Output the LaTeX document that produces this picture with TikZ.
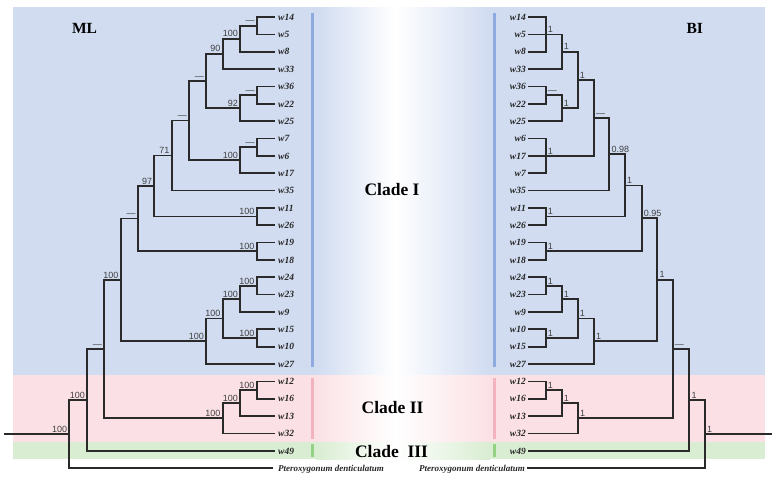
\documentclass[tikz,border=0pt]{standalone}
\usepackage{fontspec}
\setmainfont{Liberation Serif}
\newfontfamily\numfont{Liberation Sans}
\definecolor{bandblue}{HTML}{D1DCF1}
\definecolor{bandpink}{HTML}{FBE1E5}
\definecolor{bandgreen}{HTML}{D9EDD2}
\definecolor{barblue}{HTML}{8EAADF}
\definecolor{barpink}{HTML}{F2B3BE}
\definecolor{bargreen}{HTML}{93D283}
\definecolor{treeline}{HTML}{2A2A2A}
\definecolor{numgray}{HTML}{404040}
\tikzset{
  br/.style={draw=treeline, line width=1.7pt},
  sl/.style={font=\numfont\fontsize{9}{9}\selectfont, text=numgray, anchor=south east, inner sep=1pt, xshift=-1pt, yshift=0.6pt},
  sr/.style={font=\numfont\fontsize{9}{9}\selectfont, text=numgray, anchor=south west, inner sep=1pt, xshift=1pt, yshift=0.6pt},
  leafL/.style={font=\fontsize{9.5}{9.5}\selectfont\bfseries\itshape, text=black!85, anchor=west, inner xsep=3pt, inner ysep=0pt, text height=6.5pt, text depth=0pt},
  leafR/.style={font=\fontsize{9.5}{9.5}\selectfont\bfseries\itshape, text=black!85, anchor=east, inner xsep=2pt, inner ysep=0pt, text height=6.5pt, text depth=0pt},
  pterL/.style={leafL, font=\fontsize{9}{9}\selectfont\bfseries\itshape},
  pterR/.style={leafR, font=\fontsize{9}{9}\selectfont\bfseries\itshape},
  cladetxt/.style={font=\fontsize{17.5}{17.5}\selectfont\bfseries, text=black},
  methtxt/.style={font=\fontsize{15.5}{15.5}\selectfont\bfseries, text=black},
  bar/.style={line width=3pt}
}
\begin{document}
\begin{tikzpicture}[x=1pt,y=-1pt]
\useasboundingbox (0,0) rectangle (778,479);
% background bands
\fill[bandblue] (13,7) rectangle (765,375);
\fill[bandpink] (13,375) rectangle (765,442);
\fill[bandgreen] (13,442) rectangle (765,459);
\shade[left color=bandblue, right color=white] (316,7) rectangle (395,375);
\shade[left color=white, right color=bandblue] (395,7) rectangle (490,375);
\shade[left color=bandpink, right color=white] (316,375) rectangle (395,442);
\shade[left color=white, right color=bandpink] (395,375) rectangle (490,442);
\shade[left color=bandgreen, right color=white] (316,442) rectangle (395,459);
\shade[left color=white, right color=bandgreen] (395,442) rectangle (490,459);
% clade bars
\draw[bar, barblue] (312.7,13) -- (312.7,367);
\draw[bar, barpink] (312.7,378) -- (312.7,439);
\draw[bar, bargreen] (312.7,444) -- (312.7,457);
\draw[bar, barblue] (494,13) -- (494,367);
\draw[bar, barpink] (494,378) -- (494,439);
\draw[bar, bargreen] (494,444) -- (494,457);
% titles
\node[methtxt] (ml) at (84.5,28) {ML};
\node[methtxt] (bi) at (694.7,28) {BI};
\node[cladetxt] (c1) at (392,190) {Clade I};
\node[cladetxt] (c2) at (392.5,408) {Clade II};
\node[cladetxt] (c3) at (391.5,452) {Clade\ \ III};
% ---------- left leaves ----------
\foreach \n [count=\i from 0] in {w14,w5,w8,w33,w36,w22,w25,w7,w6,w17,w35,w11,w26,w19,w18,w24,w23,w9,w15,w10,w27,w12,w16,w13,w32,w49}{
  \coordinate (tL\i) at (275,{17+17.35*\i});
  \node[leafL] (nL\i) at (tL\i) {\n};
}
\coordinate (tL26) at (273.3,468.1);
\node[pterL] (nL26) at (275,468.1) {Pteroxygonum denticulatum};
% ---------- right leaves ----------
\foreach \n [count=\i from 0] in {w14,w5,w8,w33,w36,w22,w25,w6,w17,w7,w35,w11,w26,w19,w18,w24,w23,w9,w10,w15,w27,w12,w16,w13,w32,w49}{
  \coordinate (tR\i) at (528,{17+17.35*\i});
  \node[leafR] (nR\i) at (tR\i) {\n};
}
\coordinate (tR26) at (527,468.1);
\node[pterR] (nR26) at (tR26) {Pteroxygonum denticulatum};
% ---------- left internal nodes ----------
\coordinate (LA) at (256.7,25.675);
\coordinate (LB) at (240,38.69);
\coordinate (LC) at (222.7,53.87);
\coordinate (LD) at (256.7,95.075);
\coordinate (LE) at (240,108.09);
\coordinate (LF) at (206,80.98);
\coordinate (LG) at (256.7,147.125);
\coordinate (LH) at (240,160.14);
\coordinate (LI) at (189,120.56);
\coordinate (LJ) at (171.7,155.53);
\coordinate (LK1) at (256.7,216.525);
\coordinate (LK) at (154.3,186.03);
\coordinate (LL1) at (256.7,251.225);
\coordinate (LL) at (137.7,218.63);
\coordinate (LM1) at (256.7,285.925);
\coordinate (LM2) at (240,298.94);
\coordinate (LM3) at (256.7,337.975);
\coordinate (LM4) at (222.7,318.46);
\coordinate (LM5) at (206,341.23);
\coordinate (LP) at (120.7,279.93);
\coordinate (LQ1) at (256.7,390.025);
\coordinate (LQ2) at (240,403.04);
\coordinate (LQ3) at (222.7,418.22);
\coordinate (LT) at (104,349.08);
\coordinate (LU) at (87,399.91);
\coordinate (LV) at (69.3,434.0);
\coordinate (rootL) at (4,434.0);
\draw[br] (LA) |- (tL0) (LA) |- (tL1)
  (LB) |- (LA) (LB) |- (tL2)
  (LC) |- (LB) (LC) |- (tL3)
  (LD) |- (tL4) (LD) |- (tL5)
  (LE) |- (LD) (LE) |- (tL6)
  (LF) |- (LC) (LF) |- (LE)
  (LG) |- (tL7) (LG) |- (tL8)
  (LH) |- (LG) (LH) |- (tL9)
  (LI) |- (LF) (LI) |- (LH)
  (LJ) |- (LI) (LJ) |- (tL10)
  (LK1) |- (tL11) (LK1) |- (tL12)
  (LK) |- (LJ) (LK) |- (LK1)
  (LL1) |- (tL13) (LL1) |- (tL14)
  (LL) |- (LK) (LL) |- (LL1)
  (LM1) |- (tL15) (LM1) |- (tL16)
  (LM2) |- (LM1) (LM2) |- (tL17)
  (LM3) |- (tL18) (LM3) |- (tL19)
  (LM4) |- (LM2) (LM4) |- (LM3)
  (LM5) |- (LM4) (LM5) |- (tL20)
  (LP) |- (LL) (LP) |- (LM5)
  (LQ1) |- (tL21) (LQ1) |- (tL22)
  (LQ2) |- (LQ1) (LQ2) |- (tL23)
  (LQ3) |- (LQ2) (LQ3) |- (tL24)
  (LT) |- (LP) (LT) |- (LQ3)
  (LU) |- (LT) (LU) |- (tL25)
  (LV) |- (LU) (LV) |- (tL26)
  (rootL) -- (LV);
% left support values
\node[sl] at (LA) {—};
\node[sl] at (LB) {100};
\node[sl] at (LC) {90};
\node[sl] at (LD) {—};
\node[sl] at (LE) {92};
\node[sl] at (LF) {—};
\node[sl] at (LG) {—};
\node[sl] at (LH) {100};
\node[sl] at (LI) {—};
\node[sl] at (LJ) {71};
\node[sl] at (LK1) {100};
\node[sl] at (LK) {97};
\node[sl] at (LL1) {100};
\node[sl] at (LL) {—};
\node[sl] at (LM1) {100};
\node[sl] at (LM2) {100};
\node[sl] at (LM3) {100};
\node[sl] at (LM4) {100};
\node[sl] at (LM5) {100};
\node[sl] at (LP) {100};
\node[sl] at (LQ1) {100};
\node[sl] at (LQ2) {100};
\node[sl] at (LQ3) {100};
\node[sl] at (LT) {—};
\node[sl] at (LU) {100};
\node[sl] at (LV) {100};
% ---------- right internal nodes ----------
\coordinate (RA) at (545.7,34.35);
\coordinate (RB) at (561.7,51.7);
\coordinate (RD) at (545.7,95.075);
\coordinate (RE) at (561.7,108.09);
\coordinate (RX1) at (577.7,79.9);
\coordinate (RG) at (545.7,155.8);
\coordinate (RX2) at (594,117.85);
\coordinate (RX3) at (609.3,154.18);
\coordinate (RK1) at (545.7,216.525);
\coordinate (RX4) at (625,185.35);
\coordinate (RL1) at (545.7,251.225);
\coordinate (RX5) at (641.7,218.29);
\coordinate (RM1) at (545.7,285.925);
\coordinate (RM2) at (561.7,298.94);
\coordinate (RM3) at (545.7,337.975);
\coordinate (RM4) at (577.7,318.46);
\coordinate (RM5) at (594,341.23);
\coordinate (RX6) at (657.3,279.76);
\coordinate (RQ1) at (545.7,390.025);
\coordinate (RQ2) at (561.7,403.04);
\coordinate (RQ3) at (578,418.22);
\coordinate (RX7) at (672.7,348.99);
\coordinate (RX8) at (689.3,399.87);
\coordinate (RX9) at (705,433.98);
\coordinate (rootR) at (772,433.98);
\draw[br] (RA) |- (tR0) (RA) |- (tR1) (RA) |- (tR2)
  (RB) |- (RA) (RB) |- (tR3)
  (RD) |- (tR4) (RD) |- (tR5)
  (RE) |- (RD) (RE) |- (tR6)
  (RX1) |- (RB) (RX1) |- (RE)
  (RG) |- (tR7) (RG) |- (tR8) (RG) |- (tR9)
  (RX2) |- (RX1) (RX2) |- (RG)
  (RX3) |- (RX2) (RX3) |- (tR10)
  (RK1) |- (tR11) (RK1) |- (tR12)
  (RX4) |- (RX3) (RX4) |- (RK1)
  (RL1) |- (tR13) (RL1) |- (tR14)
  (RX5) |- (RX4) (RX5) |- (RL1)
  (RM1) |- (tR15) (RM1) |- (tR16)
  (RM2) |- (RM1) (RM2) |- (tR17)
  (RM3) |- (tR18) (RM3) |- (tR19)
  (RM4) |- (RM2) (RM4) |- (RM3)
  (RM5) |- (RM4) (RM5) |- (tR20)
  (RX6) |- (RX5) (RX6) |- (RM5)
  (RQ1) |- (tR21) (RQ1) |- (tR22)
  (RQ2) |- (RQ1) (RQ2) |- (tR23)
  (RQ3) |- (RQ2) (RQ3) |- (tR24)
  (RX7) |- (RX6) (RX7) |- (RQ3)
  (RX8) |- (RX7) (RX8) |- (tR25)
  (RX9) |- (RX8) (RX9) |- (tR26)
  (RX9) -- (rootR);
% right support values
\node[sr] at (RA) {1};
\node[sr] at (RB) {1};
\node[sr] at (RD) {—};
\node[sr] at (RE) {1};
\node[sr] at (RX1) {1};
\node[sr] at (RG) {1};
\node[sr] at (RX2) {—};
\node[sr] at (RX3) {0.98};
\node[sr] at (RK1) {1};
\node[sr] at (RX4) {1};
\node[sr] at (RL1) {1};
\node[sr] at (RX5) {0.95};
\node[sr] at (RM1) {1};
\node[sr] at (RM2) {1};
\node[sr] at (RM3) {1};
\node[sr] at (RM4) {1};
\node[sr] at (RM5) {1};
\node[sr] at (RX6) {1};
\node[sr] at (RQ1) {1};
\node[sr] at (RQ2) {1};
\node[sr] at (RQ3) {1};
\node[sr] at (RX7) {—};
\node[sr] at (RX8) {1};
\node[sr] at (RX9) {1};
\end{tikzpicture}
\end{document}
